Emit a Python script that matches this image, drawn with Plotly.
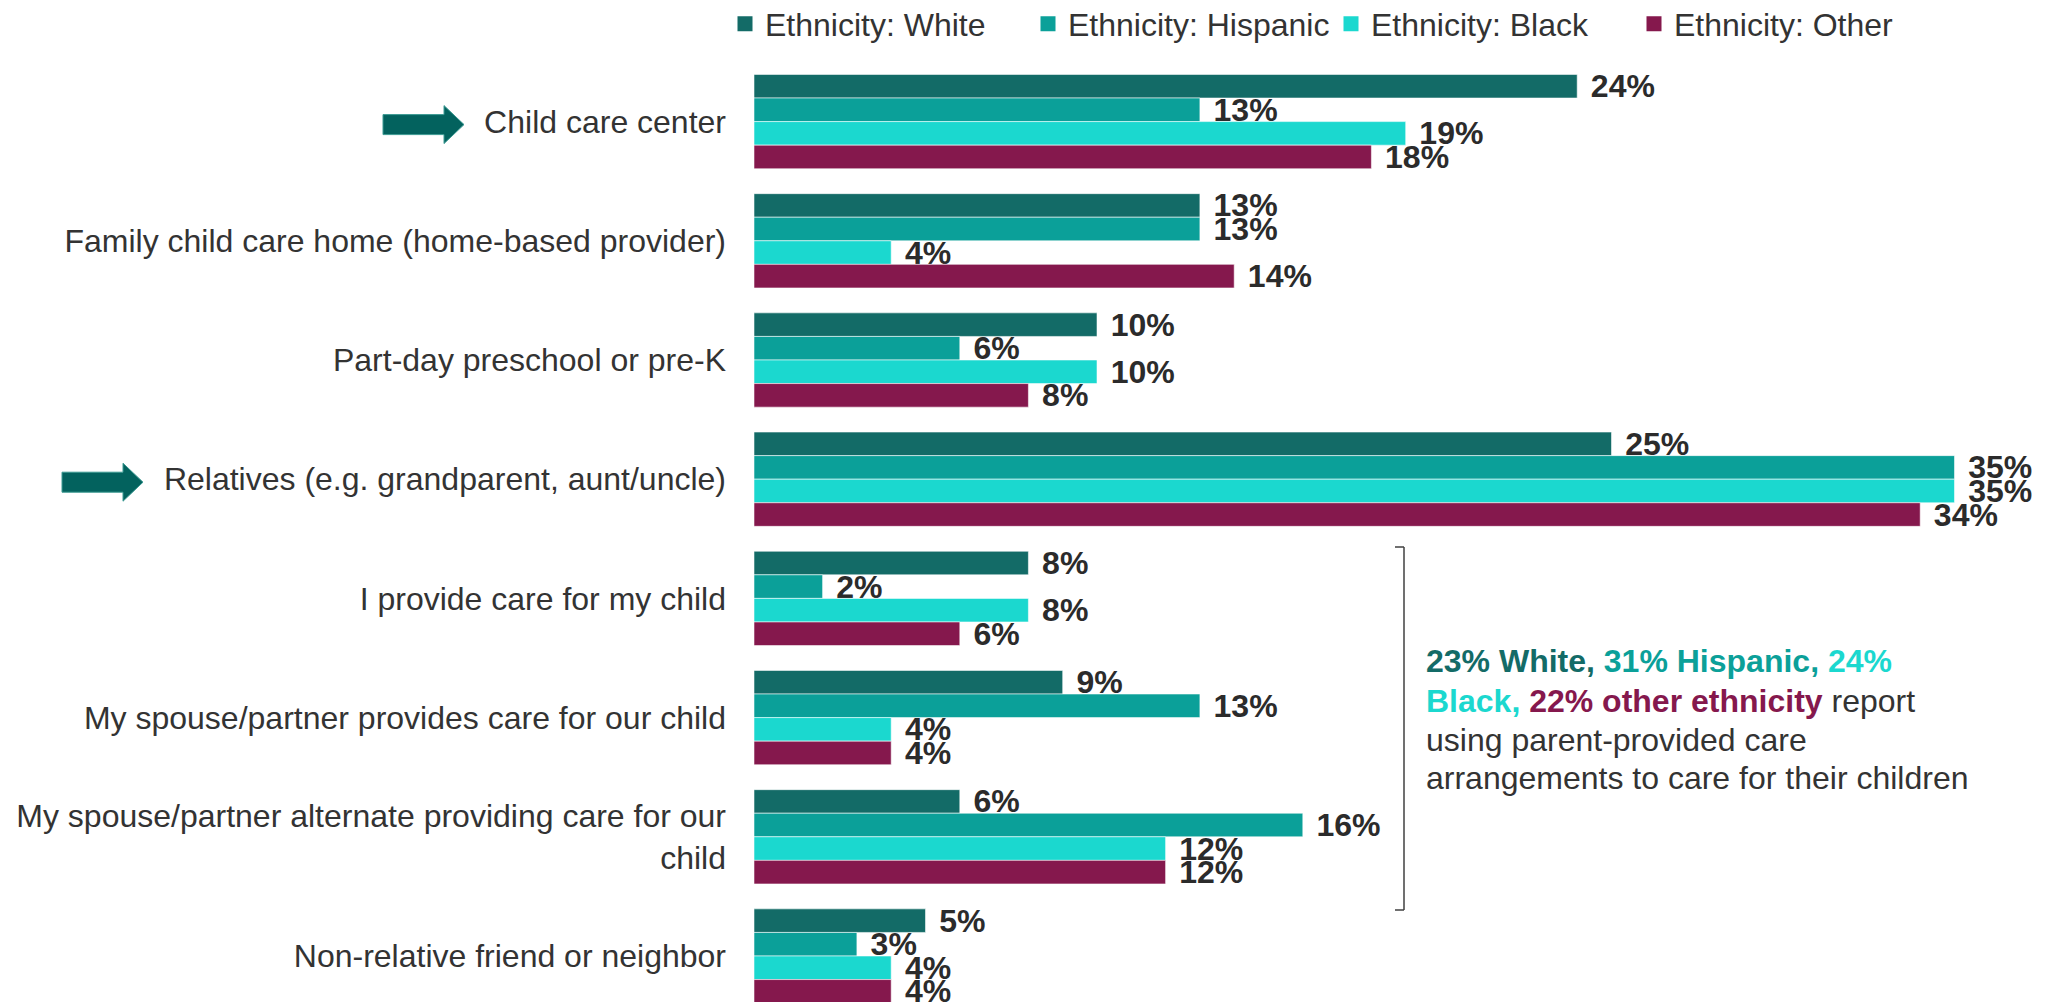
import plotly.graph_objects as go

categories = [
    "Child care center",
    "Family child care home (home-based provider)",
    "Part-day preschool or pre-K",
    "Relatives (e.g. grandparent, aunt/uncle)",
    "I provide care for my child",
    "My spouse/partner provides care for our child",
    "My spouse/partner alternate providing care for our<br>child",
    "Non-relative friend or neighbor",
]
white = [24, 13, 10, 25, 8, 9, 6, 5]
hispanic = [13, 13, 6, 35, 2, 13, 16, 3]
black = [19, 4, 10, 35, 8, 4, 12, 4]
other = [18, 14, 8, 34, 6, 4, 12, 4]
series_names = ["Ethnicity: White", "Ethnicity: Hispanic", "Ethnicity: Black", "Ethnicity: Other"]
series_values = [white, hispanic, black, other]
colors = ["#136B67", "#0BA099", "#1BD8CF", "#85184D"]

FONT = "Liberation Sans, Arial, sans-serif"
OFF = 8  # page body margin
W, H = 2054 - OFF, 1002 - OFF
ML, MR, MT, MB = 754 - OFF, 20, 62 - OFF, 0
PX_PER_PCT = 34.3
plot_w = W - ML - MR
plot_h = H - MT - MB
cat_px = 119.2
n_vis = plot_h / cat_px

fig = go.Figure()
for name, vals, col in zip(series_names, series_values, colors):
    fig.add_trace(go.Bar(
        y=categories, x=vals, name=name, orientation="h", showlegend=False,
        marker=dict(color=col, line=dict(color="rgba(255,255,255,0.55)", width=1)),
        text=["\u2004" + f"{v}%" for v in vals], textposition="outside",
        textfont=dict(family=FONT, size=32, color="#2B2B2B", weight="bold"),
        constraintext="none", cliponaxis=False,
    ))
# legend entries with larger square swatches
for name, col in zip(series_names, colors):
    fig.add_trace(go.Scatter(
        x=[None], y=[None], mode="markers", name=name,
        marker=dict(symbol="square", size=15, color=col), hoverinfo="skip",
    ))

def ypaper(page_px):
    return 1 - (page_px - OFF - MT) / plot_h

def xpaper(page_px):
    return (page_px - OFF - ML) / plot_w

shapes = []
# arrows next to highlighted categories (pixel offsets from plot-area left edge)
for idx, x_start in [(0, -371), (3, -692)]:
    L = 81
    head = 20
    sh = 10
    hh = 19
    xs = x_start
    path = (f"M{xs},{-sh - 3} L{xs + L - head},{-sh - 3} L{xs + L - head},{-hh - 3} "
            f"L{xs + L},-3 L{xs + L - head},{hh - 3} L{xs + L - head},{sh - 3} L{xs},{sh - 3} Z")
    shapes.append(dict(type="path", xref="paper", yref="y", xsizemode="pixel", ysizemode="pixel",
                       xanchor=0, yanchor=idx, path=path,
                       fillcolor="#03625E", line=dict(color="#3C9A93", width=1)))

# bracket
bx = xpaper(1404)
btx = xpaper(1395)
yt = ypaper(547)
yb = ypaper(910)
bracket_line = dict(color="#404040", width=1.5)
shapes.append(dict(type="line", xref="paper", yref="paper", x0=bx, x1=bx, y0=yt, y1=yb, line=bracket_line))
shapes.append(dict(type="line", xref="paper", yref="paper", x0=btx, x1=bx, y0=yt, y1=yt, line=bracket_line))
shapes.append(dict(type="line", xref="paper", yref="paper", x0=btx, x1=bx, y0=yb, y1=yb, line=bracket_line))

lines = [
    f"<b><span style='color:{colors[0]}'>23% White, </span><span style='color:{colors[1]}'>31% Hispanic, </span><span style='color:{colors[2]}'>24%</span></b>",
    f"<b><span style='color:{colors[2]}'>Black, </span><span style='color:{colors[3]}'>22% other ethnicity</span></b> report",
    "using parent-provided care",
    "arrangements to care for their children",
]
line_px = [661, 701, 740, 778]
annotations = []
for t, py in zip(lines, line_px):
    annotations.append(dict(text=t, xref="paper", yref="paper", x=xpaper(1424), y=ypaper(py),
                            xanchor="left", yanchor="middle", showarrow=False, align="left",
                            font=dict(family=FONT, size=32, color="#333333")))

fig.update_layout(
    template="none",
    width=W, height=H, autosize=False,
    margin=dict(l=ML, r=MR, t=MT, b=MB, pad=0),
    paper_bgcolor="white", plot_bgcolor="white",
    barmode="group", bargap=0.209, bargroupgap=0,
    font=dict(family=FONT, size=32, color="#333333"),
    showlegend=True,
    legend=dict(orientation="h", xref="container", yref="container",
                x=717 / W, y=1 - 16 / H, xanchor="left", yanchor="middle",
                entrywidth=258, entrywidthmode="pixels", itemsizing="trace",
                font=dict(family=FONT, size=32, color="#333333"),
                bgcolor="rgba(0,0,0,0)", traceorder="normal"),
    xaxis=dict(range=[0, plot_w / PX_PER_PCT], visible=False, fixedrange=True),
    yaxis=dict(type="category", range=[n_vis - 0.5, -0.5], showgrid=False, zeroline=False,
               showline=False, ticks="", ticklabelstandoff=27, automargin=False,
               tickfont=dict(family=FONT, size=32, color="#333333")),
    shapes=shapes, annotations=annotations,
)

fig.write_html("out.html")
